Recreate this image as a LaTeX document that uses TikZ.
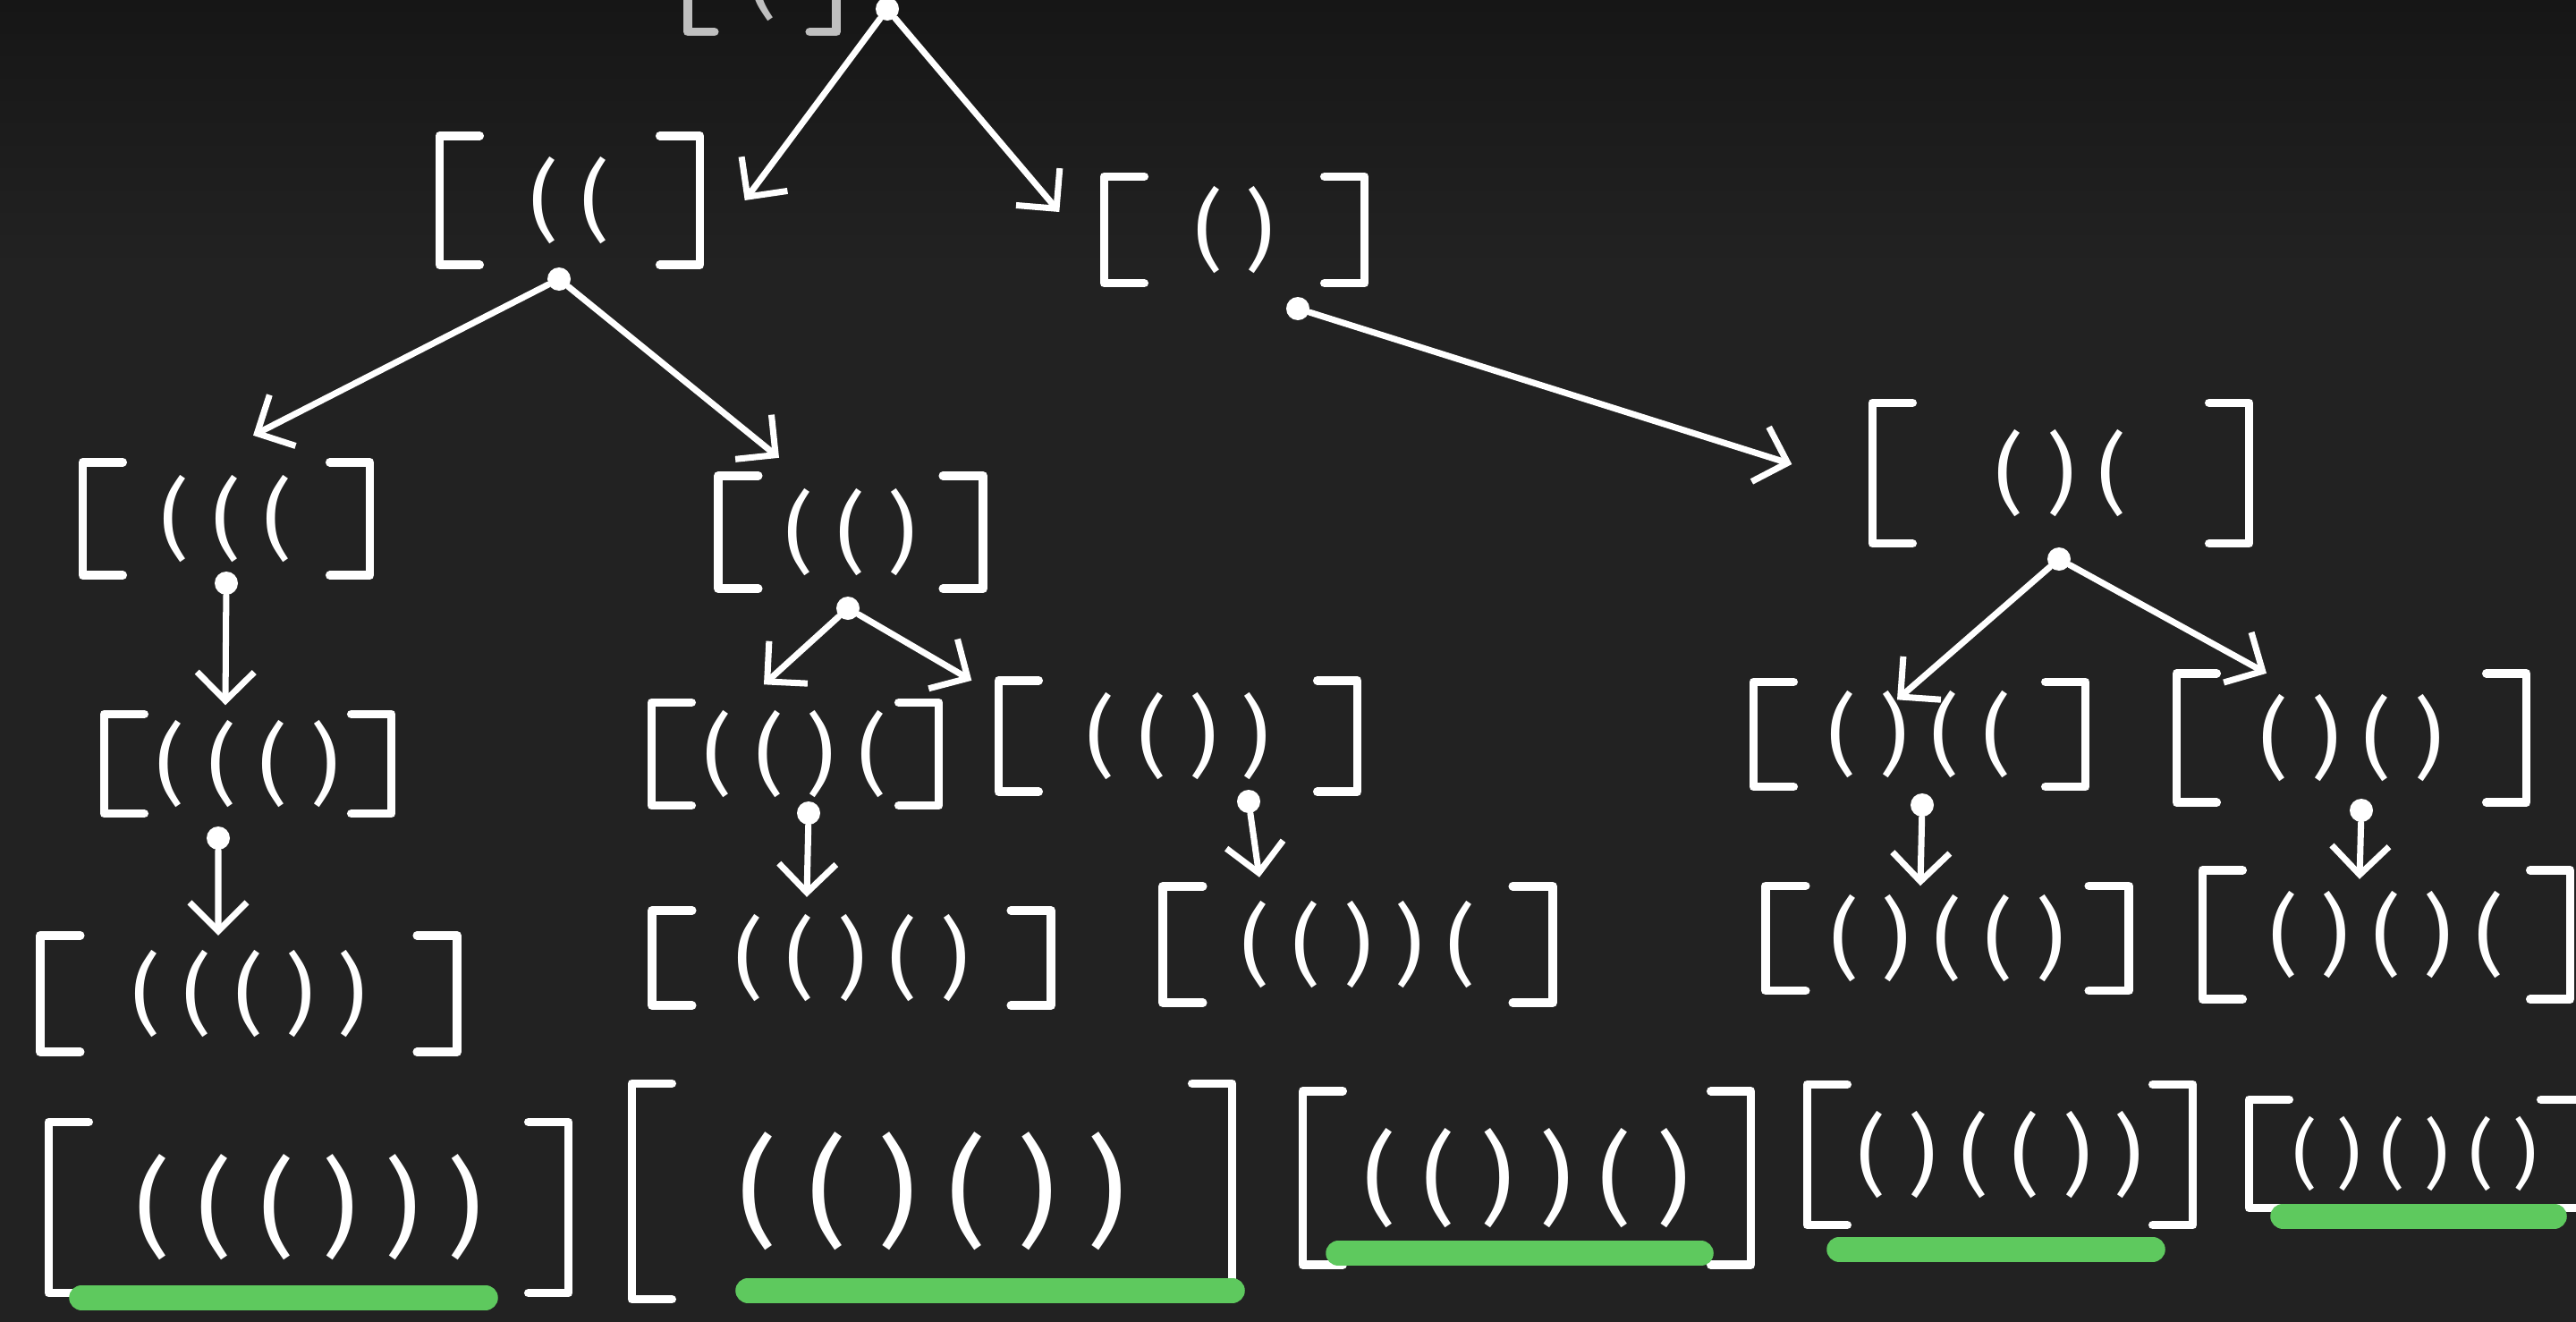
\documentclass[tikz,border=0pt]{standalone}
\usepackage{fontspec}
\newfontfamily\hand{Fira Sans}[LetterSpace=26]
\usetikzlibrary{arrows.meta}
\definecolor{board}{RGB}{34,34,34}
\definecolor{boardtop}{RGB}{22,22,22}
\definecolor{hilite}{RGB}{94,201,94}

\begin{document}
\begin{tikzpicture}[>={Straight Barb[length=3.2mm,width=6.4mm]},
  pbox/.style 2 args={text=white, font=\hand\fontsize{28}{28}\selectfont, minimum width=#1cm, minimum height=#2cm, inner sep=0pt},
  finbox/.style 2 args={pbox={#1}{#2}, font=\hand\fontsize{34}{34}\selectfont},
  dot/.style={circle, fill=white, inner sep=0pt, minimum size=2.6mm},
  link/.style={->, white, line width=2pt, line cap=round},
  brk/.style={white, line width=2.7pt, line cap=round, line join=round},
  hl/.style={hilite, line width=8pt, line cap=round}]
  \useasboundingbox (0,0) rectangle (28.8,-14.78);
  \fill[board] (0,0) rectangle (28.8,-14.78);
  \shade[top color=boardtop, bottom color=board] (0,0) rectangle (28.8,-3);
  \node[pbox={1.65}{1.2}, text=white!75!black] (root) at (8.52,0.25) {(};
  \node[pbox={2.9}{1.43}] (l1a) at (6.37,-2.24) {((};
  \node[pbox={2.9}{1.18}] (l1b) at (13.80,-2.57) {()};
  \node[pbox={3.2}{1.25}] (l2a) at (2.53,-5.80) {(((};
  \node[pbox={2.95}{1.25}] (l2b) at (9.51,-5.95) {(()};
  \node[pbox={4.2}{1.56}] (l2c) at (23.04,-5.29) {()(};
  \node[pbox={3.2}{1.1}] (l3a) at (2.77,-8.54) {((()};
  \node[pbox={3.2}{1.14}] (l3b) at (8.89,-8.43) {(()(};
  \node[pbox={4.0}{1.23}] (l3c) at (13.17,-8.23) {(())};
  \node[pbox={3.7}{1.16}] (l3d) at (21.46,-8.21) {()((};
  \node[pbox={3.9}{1.43}] (l3e) at (26.29,-8.25) {()()};
  \node[pbox={4.65}{1.29}] (l4a) at (2.78,-11.11) {((())};
  \node[pbox={4.45}{1.05}] (l4b) at (9.52,-10.71) {(()()};
  \node[pbox={4.35}{1.29}] (l4c) at (15.18,-10.56) {(())(};
  \node[pbox={4.05}{1.16}] (l4d) at (21.77,-10.49) {()(()};
  \node[pbox={4.1}{1.43}] (l4e) at (26.68,-10.45) {()()(};
  \node[finbox={5.8}{1.9}] (f1) at (3.45,-13.50) {((()))};
  \node[finbox={6.7}{2.4}, font=\hand\fontsize{38}{38}\selectfont] (f2) at (10.42,-13.32) {(()())};
  \node[finbox={5.0}{1.93}, font=\hand\fontsize{32}{32}\selectfont] (f3) at (17.07,-13.17) {(())()};
  \node[finbox={4.3}{1.56}, font=\hand\fontsize{28}{28}\selectfont] (f4) at (22.36,-12.91) {()(())};
  \node[finbox={3.7}{1.2}, font=\hand\fontsize{24}{24}\selectfont] (f5) at (27.00,-12.90) {()()()};
  \draw[brk, white!75!black] ([xshift=3mm]root.north west) -- (root.north west) -- (root.south west) -- ([xshift=3mm]root.south west);
  \draw[brk, white!75!black] ([xshift=-3mm]root.north east) -- (root.north east) -- (root.south east) -- ([xshift=-3mm]root.south east);
  \foreach \n in {l1a,l1b,l2a,l2b,l2c,l3a,l3b,l3c,l3d,l3e,l4a,l4b,l4c,l4d,l4e,f1,f2,f3,f4,f5} {
    \draw[brk] ([xshift=4.5mm]\n.north west) -- (\n.north west) -- (\n.south west) -- ([xshift=4.5mm]\n.south west);
    \draw[brk] ([xshift=-4.5mm]\n.north east) -- (\n.north east) -- (\n.south east) -- ([xshift=-4.5mm]\n.south east);
  }
  \node[dot] (d0) at (9.92,-0.10) {};
  \node[dot] (d1a) at (6.25,-3.12) {};
  \node[dot] (d1b) at (14.51,-3.45) {};
  \node[dot] (d2a) at (2.53,-6.52) {};
  \node[dot] (d2b) at (9.48,-6.80) {};
  \node[dot] (d2c) at (23.02,-6.25) {};
  \node[dot] (d3a) at (2.44,-9.37) {};
  \node[dot] (d3b) at (9.04,-9.09) {};
  \node[dot] (d3c) at (13.96,-8.96) {};
  \node[dot] (d3d) at (21.49,-9.00) {};
  \node[dot] (d3e) at (26.40,-9.06) {};
  \draw[link] (d0) -- ([xshift=5mm]l1a.east);
  \draw[link] (d0) -- ([xshift=-5mm,yshift=2mm]l1b.west);
  \draw[link] (d1a) -- ([xshift=3mm,yshift=3mm]l2a.north);
  \draw[link] (d1a) -- ([xshift=-8mm,yshift=2mm]l2b.north);
  \draw[link] (d1b) -- ([xshift=-9mm,yshift=1mm]l2c.west);
  \draw[link] (d2a) -- ([xshift=-2.5mm,yshift=1mm]l3a.north);
  \draw[link] (d2b) -- ([xshift=-3.5mm,yshift=2mm]l3b.north);
  \draw[link] (d2b) -- ([xshift=-3mm]l3c.north west);
  \draw[link] (d2c) -- ([xshift=-2.5mm,yshift=-2mm]l3d.north);
  \draw[link] (d2c) -- ([xshift=-9.5mm]l3e.north);
  \draw[link] (d3a) -- ([xshift=-3.4mm]l4a.north);
  \draw[link] (d3b) -- ([xshift=-5mm,yshift=1.5mm]l4b.north);
  \draw[link] (d3c) -- ([xshift=-11mm,yshift=1mm]l4c.north);
  \draw[link] (d3d) -- ([xshift=-3mm]l4d.north);
  \draw[link] (d3e) -- ([xshift=-3mm,yshift=-1mm]l4e.north);
  \draw[hl] ([xshift=3.7mm,yshift=-0.5mm]f1.south west) -- ([xshift=-9.3mm,yshift=-0.5mm]f1.south east);
  \draw[hl] ([xshift=13mm,yshift=1mm]f2.south west) -- ([yshift=1mm]f2.south east);
  \draw[hl] ([xshift=4mm,yshift=1.3mm]f3.south west) -- ([xshift=-5.6mm,yshift=1.3mm]f3.south east);
  \draw[hl] ([xshift=3.6mm,yshift=-2.7mm]f4.south west) -- ([xshift=-4.5mm,yshift=-2.7mm]f4.south east);
  \draw[hl] ([xshift=3.8mm,yshift=-0.9mm]f5.south west) -- ([xshift=-3mm,yshift=-0.9mm]f5.south east);
\end{tikzpicture}
\end{document}
